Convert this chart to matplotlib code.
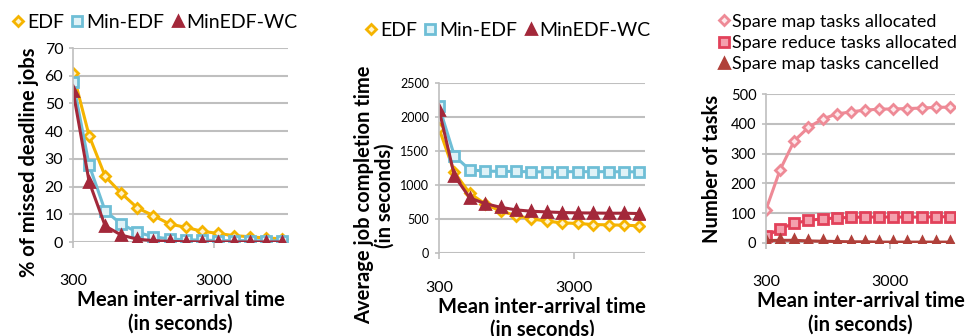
import matplotlib.pyplot as plt
import numpy as np

plt.rcParams['font.family'] = ['Lato', 'DejaVu Sans']

# mean inter-arrival time (s), log-spaced in the original
arrival = [300, 390, 507, 659, 857, 1114, 1448, 1882, 2447, 3181, 4135, 5376, 6989, 9086]

# left: % of missed deadline jobs
missed_edf = [61.0, 38.4, 23.7, 17.6, 12.3, 9.5, 6.5, 5.3, 3.9, 3.1, 2.3, 1.9, 1.4, 1.2]
missed_min = [57.9, 27.8, 11.2, 6.5, 3.5, 1.9, 1.1, 0.8, 0.7, 0.5, 0.5, 0.5, 0.4, 0.4]
missed_wc = [54.6, 21.8, 5.8, 2.5, 1.0, 0.5, 0.2, 0.1, 0.0, 0.0, 0.0, 0.0, 0.0, 0.0]

# middle: average job completion time (s)
compl_edf = [1832, 1184, 877, 721, 614, 551, 502, 468, 443, 434, 419, 414, 409, 400]
compl_min = [2159, 1428, 1223, 1204, 1200, 1199, 1194, 1194, 1196, 1196, 1196, 1196, 1194, 1194]
compl_wc = [2110, 1135, 809, 726, 672, 634, 614, 604, 595, 590, 588, 585, 585, 580]

# right: number of tasks
map_alloc = [112, 246, 343, 388, 416, 433, 440, 446, 449, 450, 451, 453, 455, 456]
red_alloc = [23, 48, 66, 76, 81, 84, 86, 87, 87, 87, 87, 87, 88, 88]
map_cancel = [8, 9, 9, 7, 6, 5, 4, 4, 3, 3, 3, 3, 3, 3]

W, H = 965, 336
fig = plt.figure(figsize=(W / 100, H / 100), dpi=100)

grid_c = '#bfbfbf'


def make_axes(l, r, top, bot):
    return fig.add_axes([l / W, 1 - bot / H, (r - l) / W, (bot - top) / H])


def style(ax, ylim, yticks, ylabel, ysize, ylabpad, ylab_y, xpad=19):
    ax.set_xscale('log')
    ax.set_xlim(300, 10000)
    ax.set_ylim(*ylim)
    ax.set_yticks(yticks)
    ax.set_xticks([300, 3000])
    ax.set_xticklabels(['300', '3000'])
    ax.minorticks_off()
    ax.grid(axis='y', color=grid_c, lw=1.5)
    ax.set_axisbelow(True)
    for s in ['top', 'right', 'bottom']:
        ax.spines[s].set_visible(False)
    ax.spines['left'].set_color(grid_c)
    ax.spines['left'].set_linewidth(1.2)
    ax.tick_params(axis='y', length=3, color=grid_c, width=1.2, labelsize=ysize, pad=4)
    ax.tick_params(axis='x', length=4, color=grid_c, width=1.2, labelsize=11.5, pad=xpad)
    ax.set_xlabel('Mean inter-arrival time\n(in seconds)', fontsize=14.5,
                  fontweight='bold', linespacing=1.2, labelpad=1.5)
    ax.set_ylabel(ylabel, fontsize=14.5, fontweight='bold', linespacing=1.05, labelpad=ylabpad)
    ax.yaxis.label.set_y(ylab_y)


def series(ax, y, color, marker, mfc, ms=6.5):
    return ax.plot(arrival, y, color=color, lw=2.2, marker=marker, ms=ms,
                   mfc=mfc, mec=color, mew=2)[0]


edf_c, min_c, wc_c = '#f5b400', '#6ebed6', '#a3283a'

# left panel
ax1 = make_axes(73, 288, 48, 242)
h1 = [series(ax1, missed_edf, edf_c, 'D', '#fff3cc', 5.5),
      series(ax1, missed_min, min_c, 's', '#dff2f7', 6.5),
      series(ax1, missed_wc, wc_c, '^', wc_c, 7.5)]
style(ax1, (0, 70), range(0, 71, 10), '% of missed deadline jobs', 11.5, 4, 0.41)

# middle panel
ax2 = make_axes(439, 645, 83, 253)
h2 = [series(ax2, compl_edf, edf_c, 'D', '#fff3cc', 5.5),
      series(ax2, compl_min, min_c, 's', '#dff2f7', 6.5),
      series(ax2, compl_wc, wc_c, '^', wc_c, 7.5)]
style(ax2, (0, 2500), range(0, 2501, 500), 'Average job completion time\n(in seconds)', 9, 4, 0.34,
      xpad=16)

# right panel
pink, red, brown = '#ee8a96', '#e2415a', '#b0403a'
ax3 = make_axes(766, 955, 94, 243)
h3 = [series(ax3, map_alloc, pink, 'D', '#fde8eb', 5.5),
      series(ax3, red_alloc, red, 's', '#f4a0ad', 6.5),
      series(ax3, map_cancel, brown, '^', brown, 7.5)]
style(ax3, (0, 500), range(0, 501, 100), 'Number of tasks', 10.5, 6, 0.5)

names = ['EDF', 'Min-EDF', 'MinEDF-WC']
leg_kw = dict(frameon=False, handlelength=0.6, handletextpad=0.15,
              bbox_transform=fig.transFigure, loc='center')
ax1.legend([h for h in h1], names, ncol=3, fontsize=14, columnspacing=0.4,
           bbox_to_anchor=(155 / W, 1 - 22 / H), **leg_kw)
ax2.legend([h for h in h2], names, ncol=3, fontsize=14, columnspacing=0.4,
           bbox_to_anchor=(508 / W, 1 - 30 / H), **leg_kw)
ax3.legend([h for h in h3],
           ['Spare map tasks allocated', 'Spare reduce tasks allocated', 'Spare map tasks cancelled'],
           ncol=1, fontsize=13, labelspacing=0.3,
           bbox_to_anchor=(838 / W, 1 - 43 / H), **leg_kw)
for ax in (ax1, ax2, ax3):
    for lh in ax.get_legend().legend_handles:
        lh.set_linestyle('none')

fig.savefig('out.png', dpi=100)
